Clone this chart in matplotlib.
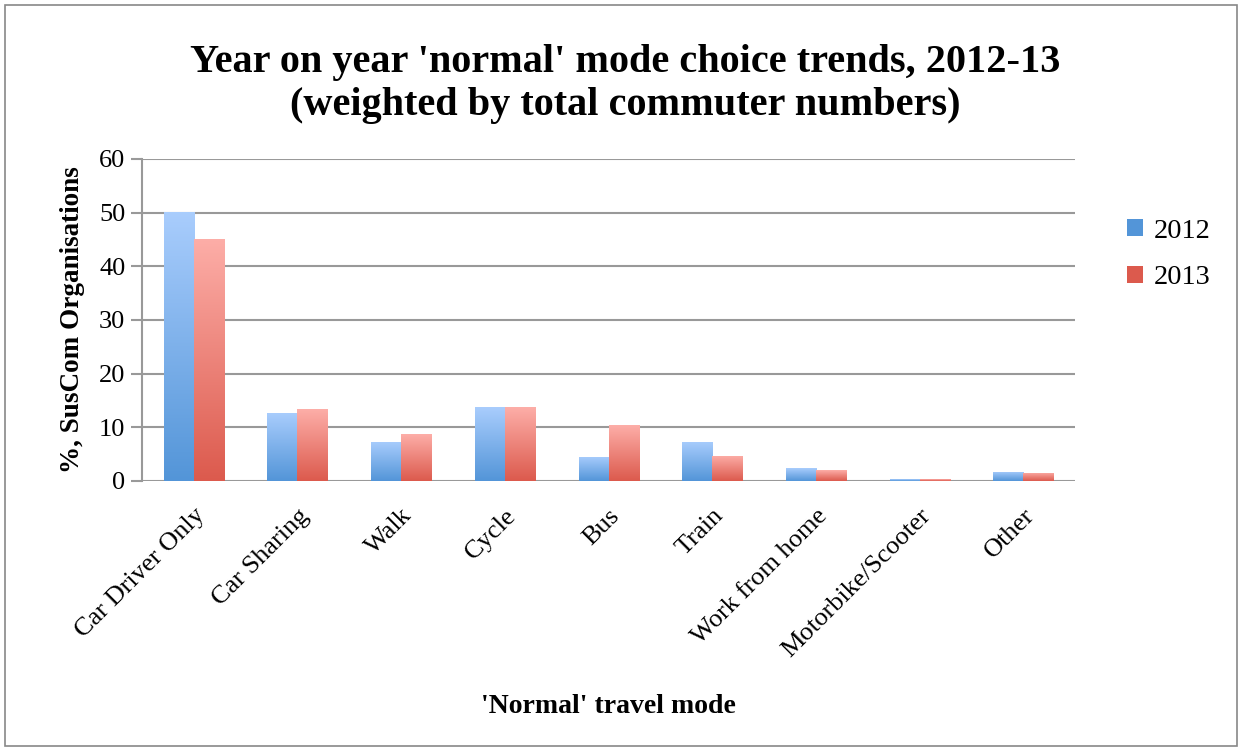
import numpy as np
import matplotlib
matplotlib.use('Agg')
import matplotlib.pyplot as plt
from matplotlib.patches import Rectangle
from matplotlib.colors import LinearSegmentedColormap

plt.rcParams['font.family'] = ['Liberation Serif', 'DejaVu Serif']

modes = ['Car Driver Only', 'Car Sharing', 'Walk', 'Cycle', 'Bus', 'Train',
         'Work from home', 'Motorbike/Scooter', 'Other']
v2012 = [50.1, 12.7, 7.3, 13.7, 4.5, 7.3, 2.4, 0.3, 1.7]
v2013 = [45.1, 13.4, 8.75, 13.7, 10.4, 4.7, 2.0, 0.3, 1.5]
years = ['2012', '2013']

# gradient colours (top, bottom)
cols = {'2012': ('#a9cdfd', '#5395d8'), '2013': ('#fdaea8', '#dc5a4d')}

fig = plt.figure(figsize=(12.43, 7.52), dpi=100)
ax = fig.add_axes([0.1142, 0.3604, 0.7508, 0.4282])

x = np.arange(len(modes))
w = 0.29
grad = np.linspace(1, 0, 256).reshape(-1, 1)

for k, (yr, vals) in enumerate(zip(years, [v2012, v2013])):
    cmap = LinearSegmentedColormap.from_list(yr, [cols[yr][1], cols[yr][0]])
    bars = ax.bar(x + (k - 0.5) * w, vals, w, align='center', color='none', zorder=3)
    for b in bars:
        x0, y0 = b.get_x(), b.get_y()
        im = ax.imshow(grad, extent=[x0, x0 + b.get_width(), y0, y0 + b.get_height()],
                       aspect='auto', cmap=cmap, vmin=0, vmax=1, zorder=3, origin='upper')
        im.set_clip_path(b)
    # legend proxy
    ax.bar([0], [0], color=cols[yr][1], label=yr)

ax.set_xlim(-0.5, len(modes) - 0.5)
ax.set_ylim(0, 60)
ax.set_yticks(range(0, 61, 10))
ax.yaxis.grid(True, color='#999999', linewidth=1.5, zorder=0)
ax.set_axisbelow(True)
for s in ['top', 'right', 'bottom']:
    ax.spines[s].set_visible(False)
ax.spines['left'].set_color('#999999')
ax.spines['left'].set_linewidth(1.5)
ax.tick_params(axis='y', length=8, width=1.5, color='#999999', labelsize=19, pad=4)
ax.tick_params(axis='x', length=0, labelsize=19, pad=17)
ax.set_xticks(x)
ax.set_xticklabels(modes, rotation=45, ha='right', rotation_mode='anchor')

ax.set_ylabel('%, SusCom Organisations', fontsize=19.5, fontweight='bold', labelpad=10)
ax.set_xlabel("'Normal' travel mode", fontsize=20, fontweight='bold')
ax.xaxis.set_label_coords(0.5, -0.66)

fig.text(0.503, 0.888, "Year on year 'normal' mode choice trends, 2012-13\n(weighted by total commuter numbers)",
         ha='center', va='center', fontsize=29, fontweight='bold', linespacing=1.2)

h, l = ax.get_legend_handles_labels()
fig.legend(h, l, loc='upper left', bbox_to_anchor=(0.886, 0.743), frameon=False,
           fontsize=20.5, handlelength=0.55, handleheight=0.55, labelspacing=0.75, handletextpad=0.4)

fig.patches.append(Rectangle((0.004, 0.008), 0.991, 0.985, transform=fig.transFigure,
                             fill=False, edgecolor='#888888', linewidth=1.2))

fig.savefig('out.png', dpi=100)
